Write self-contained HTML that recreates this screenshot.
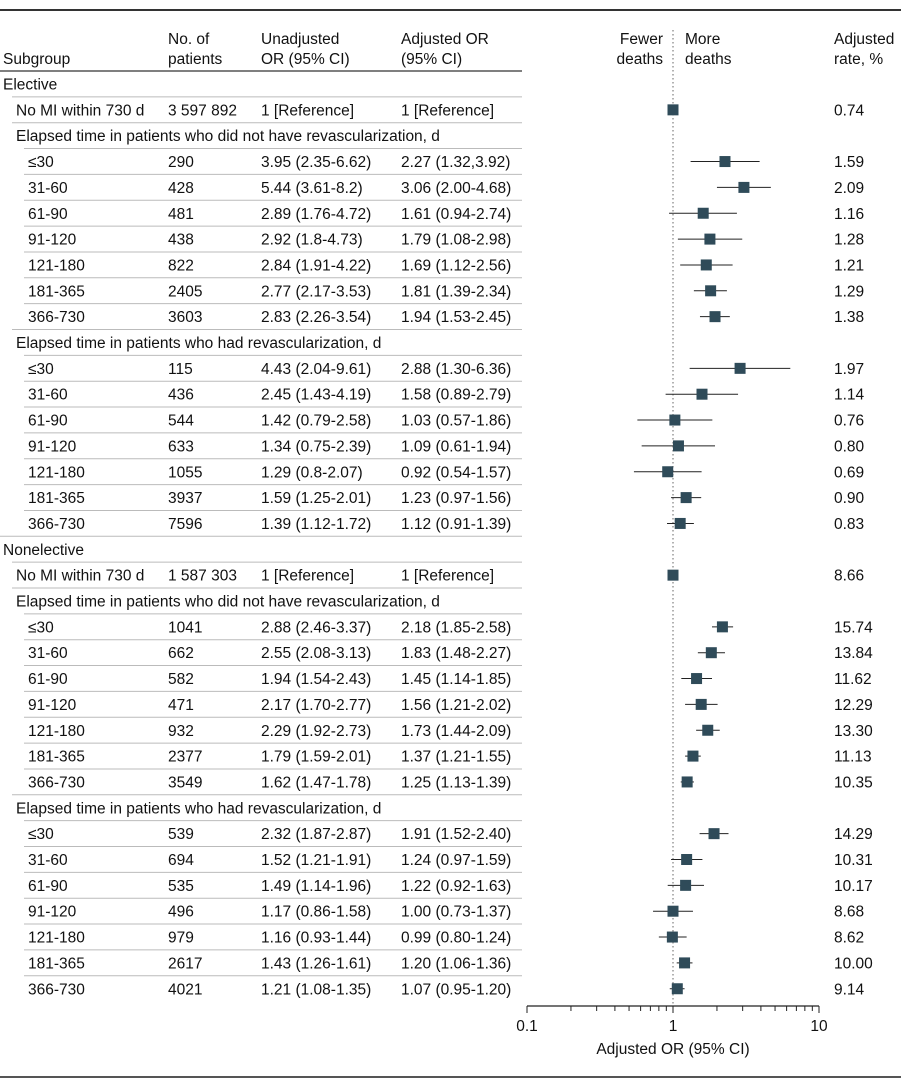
<!DOCTYPE html>
<html><head><meta charset="utf-8"><style>
body{margin:0;width:901px;height:1083px;background:#fff;overflow:hidden;font-family:"Liberation Sans",sans-serif;color:#111}
svg{position:absolute;left:0;top:0}
text{font-family:"Liberation Sans",sans-serif;font-size:15.5px;fill:#111}
</style></head><body>
<svg id="s" width="901" height="1083" xmlns="http://www.w3.org/2000/svg">
<line x1="0" y1="10" x2="901" y2="10" stroke="#333" stroke-width="2"/>
<line x1="0" y1="1077" x2="901" y2="1077" stroke="#555" stroke-width="2"/>
<line x1="0" y1="71" x2="522" y2="71" stroke="#555" stroke-width="1.5"/>
<text x="3" y="64">Subgroup</text>
<text x="168" y="44">No. of</text><text x="168" y="64">patients</text>
<text x="261" y="44">Unadjusted</text><text x="261" y="64">OR (95% CI)</text>
<text x="401" y="44">Adjusted OR</text><text x="401" y="64">(95% CI)</text>
<text x="663" y="44" text-anchor="end">Fewer</text><text x="663" y="64" text-anchor="end">deaths</text>
<text x="685" y="44">More</text><text x="685" y="64">deaths</text>
<text x="834" y="44">Adjusted</text><text x="834" y="64">rate, %</text>
<line x1="673" y1="30" x2="673" y2="1006" stroke="#666" stroke-width="1" stroke-dasharray="1.5,2.5"/>
<line x1="527" y1="1006" x2="819" y2="1006" stroke="#222" stroke-width="1.2"/>
<text x="527" y="1031" text-anchor="middle">0.1</text>
<text x="673" y="1031" text-anchor="middle">1</text>
<text x="819" y="1031" text-anchor="middle">10</text>
<text x="673" y="1054" text-anchor="middle">Adjusted OR (95% CI)</text>
<g id="g"></g>
</svg>
<script>
var rows=[
[0,"Elective"],
[1,"No MI within 730 d","3 597 892","1 [Reference]","1 [Reference]","0.74",1,1,1],
[1,"Elapsed time in patients who did not have revascularization, d"],
[2,"≤30","290","3.95 (2.35-6.62)","2.27 (1.32,3.92)","1.59",2.27,1.32,3.92],
[2,"31-60","428","5.44 (3.61-8.2)","3.06 (2.00-4.68)","2.09",3.06,2.00,4.68],
[2,"61-90","481","2.89 (1.76-4.72)","1.61 (0.94-2.74)","1.16",1.61,0.94,2.74],
[2,"91-120","438","2.92 (1.8-4.73)","1.79 (1.08-2.98)","1.28",1.79,1.08,2.98],
[2,"121-180","822","2.84 (1.91-4.22)","1.69 (1.12-2.56)","1.21",1.69,1.12,2.56],
[2,"181-365","2405","2.77 (2.17-3.53)","1.81 (1.39-2.34)","1.29",1.81,1.39,2.34],
[2,"366-730","3603","2.83 (2.26-3.54)","1.94 (1.53-2.45)","1.38",1.94,1.53,2.45],
[1,"Elapsed time in patients who had revascularization, d"],
[2,"≤30","115","4.43 (2.04-9.61)","2.88 (1.30-6.36)","1.97",2.88,1.30,6.36],
[2,"31-60","436","2.45 (1.43-4.19)","1.58 (0.89-2.79)","1.14",1.58,0.89,2.79],
[2,"61-90","544","1.42 (0.79-2.58)","1.03 (0.57-1.86)","0.76",1.03,0.57,1.86],
[2,"91-120","633","1.34 (0.75-2.39)","1.09 (0.61-1.94)","0.80",1.09,0.61,1.94],
[2,"121-180","1055","1.29 (0.8-2.07)","0.92 (0.54-1.57)","0.69",0.92,0.54,1.57],
[2,"181-365","3937","1.59 (1.25-2.01)","1.23 (0.97-1.56)","0.90",1.23,0.97,1.56],
[2,"366-730","7596","1.39 (1.12-1.72)","1.12 (0.91-1.39)","0.83",1.12,0.91,1.39],
[0,"Nonelective"],
[1,"No MI within 730 d","1 587 303","1 [Reference]","1 [Reference]","8.66",1,1,1],
[1,"Elapsed time in patients who did not have revascularization, d"],
[2,"≤30","1041","2.88 (2.46-3.37)","2.18 (1.85-2.58)","15.74",2.18,1.85,2.58],
[2,"31-60","662","2.55 (2.08-3.13)","1.83 (1.48-2.27)","13.84",1.83,1.48,2.27],
[2,"61-90","582","1.94 (1.54-2.43)","1.45 (1.14-1.85)","11.62",1.45,1.14,1.85],
[2,"91-120","471","2.17 (1.70-2.77)","1.56 (1.21-2.02)","12.29",1.56,1.21,2.02],
[2,"121-180","932","2.29 (1.92-2.73)","1.73 (1.44-2.09)","13.30",1.73,1.44,2.09],
[2,"181-365","2377","1.79 (1.59-2.01)","1.37 (1.21-1.55)","11.13",1.37,1.21,1.55],
[2,"366-730","3549","1.62 (1.47-1.78)","1.25 (1.13-1.39)","10.35",1.25,1.13,1.39],
[1,"Elapsed time in patients who had revascularization, d"],
[2,"≤30","539","2.32 (1.87-2.87)","1.91 (1.52-2.40)","14.29",1.91,1.52,2.40],
[2,"31-60","694","1.52 (1.21-1.91)","1.24 (0.97-1.59)","10.31",1.24,0.97,1.59],
[2,"61-90","535","1.49 (1.14-1.96)","1.22 (0.92-1.63)","10.17",1.22,0.92,1.63],
[2,"91-120","496","1.17 (0.86-1.58)","1.00 (0.73-1.37)","8.68",1.00,0.73,1.37],
[2,"121-180","979","1.16 (0.93-1.44)","0.99 (0.80-1.24)","8.62",0.99,0.80,1.24],
[2,"181-365","2617","1.43 (1.26-1.61)","1.20 (1.06-1.36)","10.00",1.20,1.06,1.36],
[2,"366-730","4021","1.21 (1.08-1.35)","1.07 (0.95-1.20)","9.14",1.07,0.95,1.20]
];
var h="",ind=[3,16,28];
function X(v){return 673+146*Math.log10(v);}
rows.forEach(function(r,i){
 var y=84+25.85*i,ty=y+5.5;
 h+='<text x="'+ind[r[0]]+'" y="'+ty+'">'+r[1]+'</text>';
 if(i>0){var lx=ind[r[0]]-4;h+='<line x1="'+lx+'" y1="'+(y-13)+'" x2="522" y2="'+(y-13)+'" stroke="#bbb" stroke-width="1"/>';}
 if(r.length>2){
  h+='<text x="168" y="'+ty+'">'+r[2]+'</text><text x="261" y="'+ty+'">'+r[3]+'</text><text x="401" y="'+ty+'">'+r[4]+'</text><text x="834" y="'+ty+'">'+r[5]+'</text>';
  if(r[7]!=r[8])h+='<line x1="'+X(r[7])+'" y1="'+y+'" x2="'+X(r[8])+'" y2="'+y+'" stroke="#222" stroke-width="1"/>';
  h+='<rect x="'+(X(r[6])-5.5)+'" y="'+(y-5.5)+'" width="11" height="11" fill="#2f4b59"/>';
 }
});
for(var d=0;d<2;d++)for(var k=1;k<=10;k++){var x=527+146*d+146*Math.log10(k);if(d==1&&k==1)continue;var big=(k==1||k==10);h+='<line x1="'+x+'" y1="1006" x2="'+x+'" y2="'+(big?1013:1011)+'" stroke="#222" stroke-width="1"/>';}
document.getElementById("g").innerHTML=h;
</script>
</body></html>
